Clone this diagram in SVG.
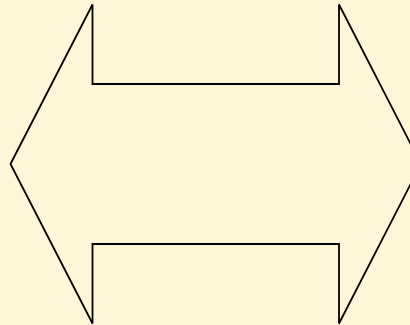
<svg xmlns="http://www.w3.org/2000/svg" width="410" height="325" viewBox="0 0 410 325">
<style>.shape{fill:#fff5d9;stroke:#000;stroke-width:1.8;stroke-linejoin:miter}</style>
<rect width="410" height="325" fill="#fff5d9"/>
<g id="double-arrow">
<path class="shape" d="M10.5,164 L92.5,4.5 L92.5,84 L339,84 L339,4.5 L421,164 L339,323.5 L339,244 L92.5,244 L92.5,323.5 Z"/>
</g>
</svg>
